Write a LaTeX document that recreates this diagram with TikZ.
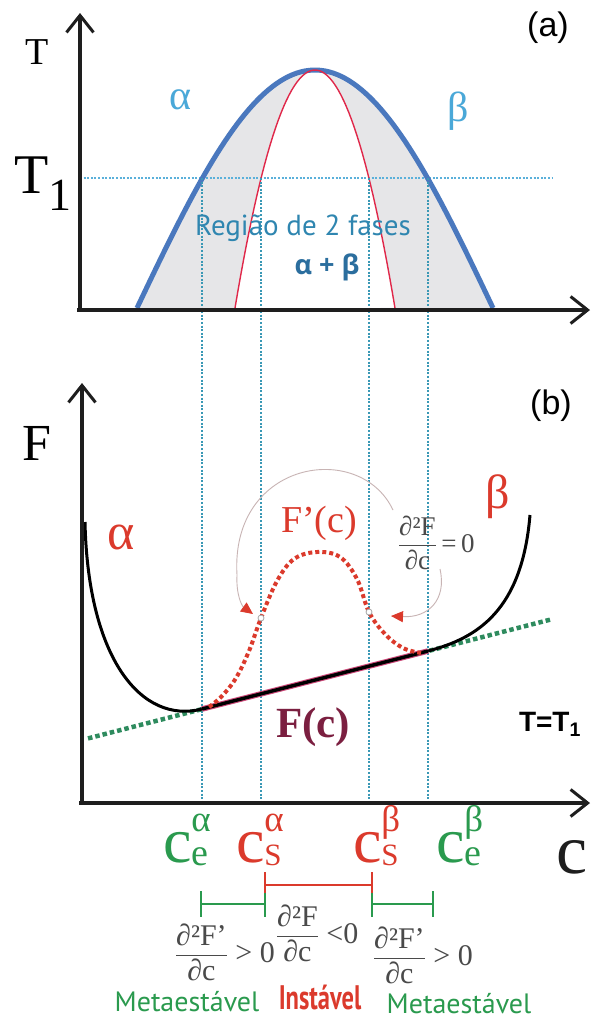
\documentclass[tikz,border=0pt]{standalone}
\usepackage{fontspec}
\usepackage{amsmath}
\setmainfont{Liberation Serif}
\setsansfont{Liberation Sans}
\newfontfamily\ptsans{PT Sans}
\newfontfamily\osans{Open Sans}
\usetikzlibrary{arrows.meta}
\newcommand\myfs[1]{\fontsize{#1}{#1}\selectfont}
\newcommand\clab[2]{c\rlap{\raisebox{0.47em}{\myfs{37}#1}}\raisebox{-0.05em}{\myfs{38}#2}}
\definecolor{bluecurve}{HTML}{4A78BE}
\definecolor{redcurve}{HTML}{E0284A}
\definecolor{fillgray}{HTML}{E6E6E8}
\definecolor{lightblue}{HTML}{4AA8D8}
\definecolor{tealtext}{HTML}{2F86B0}
\definecolor{abtext}{HTML}{2B6E9E}
\definecolor{vlinecol}{HTML}{3A98B5}
\definecolor{tonecol}{HTML}{5AB0DA}
\definecolor{redtext}{HTML}{DB3A2C}
\definecolor{greenc}{HTML}{2A9A4E}
\definecolor{greendot}{HTML}{2E8B5E}
\definecolor{maroonc}{HTML}{7B1F40}
\definecolor{graytext}{HTML}{4A4A4A}
\definecolor{arcgray}{HTML}{C8B4B4}
\definecolor{axiscol}{HTML}{1E1E1E}
\definecolor{pinkedge}{HTML}{D0487A}
\begin{document}
\begin{tikzpicture}[x=1pt,y=-1pt,
  axisline/.style={line width=3.2pt, draw=axiscol, -{Straight Barb[length=17pt,width=27pt,line width=3pt]}},
  lbl/.style={inner sep=0pt, outer sep=0pt},
  vdots/.style={draw=vlinecol, line width=1.5pt, dash pattern=on 2pt off 1.6pt},
  tdots/.style={draw=tonecol, line width=1.3pt, dash pattern=on 2pt off 1.6pt},
  greendots/.style={draw=greendot, line width=4.5pt, dash pattern=on 4.5pt off 3pt},
  reddots/.style={draw=redtext, line width=4pt, dash pattern=on 4pt off 3pt},
  fcurve/.style={draw=black, line width=3pt},
  arcline/.style={draw=arcgray, line width=0.9pt},
  redhead/.style={-{Triangle[length=12pt,width=11pt,color=redtext]}},
  infl/.style={circle, draw=gray!70, fill=white, line width=0.8pt, minimum size=6pt, inner sep=0pt},
  greenbar/.style={draw=greenc, line width=2.6pt},
  redbar/.style={draw=redtext, line width=2.4pt},
  fracs/.style={lbl, text=graytext, font=\myfs{30}, anchor=base west},
]
\useasboundingbox (0,0) rectangle (592,1021);
\fill[white] (0,0) rectangle (592,1021);

% ---------- panel (a) ----------
\fill[fillgray, even odd rule]
  plot[domain=-178:178, samples=90] ({315+\x},{70+238*(1-cos(90*\x/178))}) -- cycle
  plot[domain=-80:80, samples=60] ({315+\x},{70+238*(\x/80)*(\x/80)}) -- cycle;

\coordinate (eA) at (202,178);
\coordinate (sA) at (261,178);
\coordinate (sB) at (369,178);
\coordinate (eB) at (428,178);
\coordinate (t1s) at (80,178);
\coordinate (t1e) at (553,178);

\draw[tdots] (t1s) -- (t1e);

\draw[bluecurve, line width=5pt]
  plot[domain=-178:178, samples=90] ({315+\x},{70+238*(1-cos(90*\x/178))});
\draw[redcurve, line width=1.4pt]
  plot[domain=-80:80, samples=60] ({315+\x},{70+238*(\x/80)*(\x/80)});

% vertical guide lines
\coordinate (eAb) at (202,803);
\coordinate (sAb) at (261,803);
\coordinate (sBb) at (369,803);
\coordinate (eBb) at (428,803);
\draw[vdots] (eA) -- (eAb);
\draw[vdots] (sA) -- (sAb);
\draw[vdots] (sB) -- (sBb);
\draw[vdots] (eB) -- (eBb);

% axes (a)
\draw[axisline] (80,311.6) -- (80,13);
\draw[axisline] (77,310) -- (590,310);

\node[lbl, font=\myfs{38}] (Tlab) at (37,52) {T};
\node[lbl, font=\myfs{56}, anchor=base west] (T1lab) at (14,193) {T\raisebox{-17pt}{\myfs{46}1}};
\node[lbl, font=\sffamily\myfs{34}] (alab) at (548,28) {(a)};
\node[lbl, font=\myfs{42}, text=lightblue] (alpha1) at (181,100) {α};
\node[lbl, font=\myfs{42}, text=lightblue] (beta1) at (458,111) {β};
\node[lbl, font=\ptsans\myfs{29}, text=tealtext] (regiao) at (303,228) {Região de 2 fases};
\node[lbl, font=\osans\bfseries\myfs{27}, text=abtext] (ab) at (327,267) {α + β};

% ---------- panel (b) ----------
\coordinate (gL) at (88,738.4);
\coordinate (gR) at (550,619.7);
\draw[greendots] (gL) -- (gR);

\coordinate (Ftop) at (85,522);
\coordinate (TA) at (202,709);
\coordinate (TB) at (428,651);
\coordinate (Fend) at (530,515);
\draw[fcurve] (Ftop) .. controls (88,660) and (142,724.4) .. (TA);
\draw[fcurve] (TB) .. controls (478,638) and (522,610) .. (Fend);
\draw[pinkedge, line width=5.5pt] (TA) -- (TB);
\draw[black, line width=3.4pt] (TA) -- (TB);

\draw[reddots] plot[smooth, tension=0.6] coordinates {(209,707) (222,696) (236,678) (249,651) (261,618) (277,581) (294,559) (317,552) (340,557) (357,579) (369,612) (385,634) (403,648) (421,653)};

\node[infl] (iA) at (261,618) {};
\node[infl] (iB) at (369,612) {};

\draw[axisline] (82,804.6) -- (82,383);
\draw[axisline] (79,803) -- (590,803);

\node[lbl, font=\myfs{52}] (Flab) at (37,443) {F};
\node[lbl, font=\sffamily\myfs{34}] (blab) at (551,406) {(b)};
\node[lbl, font=\myfs{52}, text=redtext] (alpha2) at (121,537) {α};
\node[lbl, font=\myfs{48}, text=redtext] (beta2) at (498,497) {β};
\node[lbl, font=\myfs{38}, text=redtext] (Fp) at (319,523) {F’(c)};
\node[lbl, font=\bfseries\myfs{43}, text=maroonc] (Fc) at (313,727) {F(c)};
\node[lbl, font=\sffamily\bfseries\myfs{28}] (TT1) at (550,724) {T=T\textsubscript{1}};

\node[lbl, text=graytext, font=\myfs{27}, anchor=base west] (fzero) at (398,552)
  {$\dfrac{\text{∂²F}}{\text{∂c}}\text{\,=\,0}$};

\coordinate (arcLs) at (393,510);
\coordinate (arcLm) at (237,575);
\coordinate (arcLe) at (253,614);
\draw[arcline] (arcLs) .. controls (360,440) and (230,460) .. (arcLm);
\draw[arcline, redhead] (arcLm) .. controls (236,595) and (242,606) .. (arcLe);
\coordinate (arcRs) at (440,569);
\coordinate (arcRe) at (391,616);
\draw[arcline, redhead] (arcRs) .. controls (447,600) and (428,618) .. (arcRe);

% ---------- labels under c axis ----------
\node[lbl, font=\myfs{64}, text=greenc, anchor=base west] (ceA) at (163,862) {\clab{α}{e}};
\node[lbl, font=\myfs{64}, text=redtext, anchor=base west] (csA) at (236,862) {\clab{α}{\myfs{31}S}};
\node[lbl, font=\myfs{64}, text=redtext, anchor=base west] (csB) at (353,862) {\clab{β}{\myfs{31}S}};
\node[lbl, font=\myfs{64}, text=greenc, anchor=base west] (ceB) at (436,862) {\clab{β}{e}};
\node[lbl, font=\myfs{70}, text=axiscol, anchor=base west] (clab) at (556,873) {c};

% brackets
\coordinate (r1t) at (265,872);
\coordinate (r1b) at (265,893);
\coordinate (r2t) at (372,872);
\coordinate (r2b) at (372,893);
\draw[redbar] (265,885) -- (372,885);
\draw[redbar] (r1t) -- (r1b);
\draw[redbar] (r2t) -- (r2b);
\draw[greenbar] (r1b) -- (265,917);
\draw[greenbar] (r2b) -- (372,917);
\draw[greenbar] (201,891) -- (201,917);
\draw[greenbar] (433,891) -- (433,917);
\draw[greenbar] (201,904) -- (265,904);
\draw[greenbar] (372,904) -- (433,904);

\node[fracs] (fL) at (175,962) {$\dfrac{\text{∂²F'}}{\text{∂c}}\text{\ >\ 0}$};
\node[fracs] (fM) at (276,943) {$\dfrac{\text{∂²F}}{\text{∂c}}\text{\ <0}$};
\node[fracs] (fR) at (373,965) {$\dfrac{\text{∂²F'}}{\text{∂c}}\text{\ >\ 0}$};

\node[lbl, font=\ptsans\myfs{28}, text=greenc] (metaL) at (187,1002) {Metaestável};
\node[lbl, font=\ptsans\bfseries\myfs{34}, text=redtext] (inst) at (320,997) {\scalebox{0.72}[1]{Instável}};
\node[lbl, font=\ptsans\myfs{28}, text=greenc] (metaR) at (459,1004) {Metaestável};
\end{tikzpicture}
\end{document}
